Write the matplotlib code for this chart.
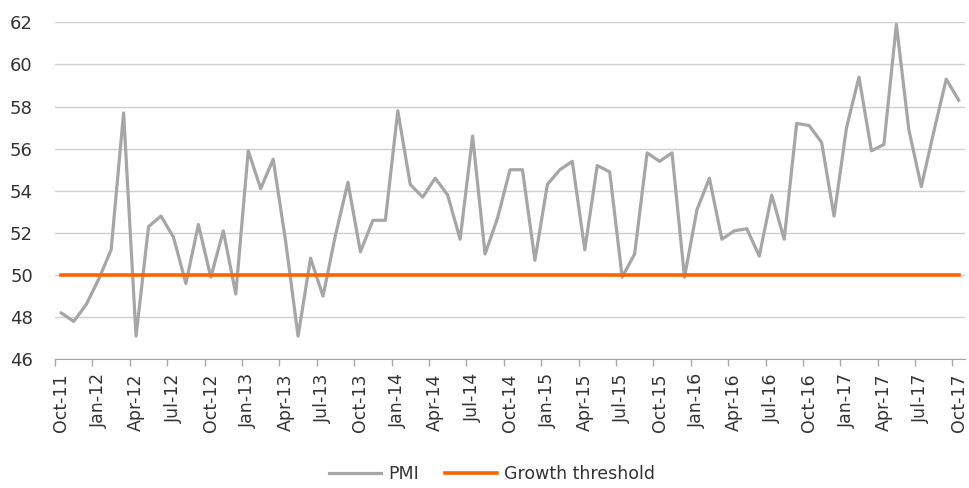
import matplotlib.pyplot as plt
import numpy as np

# Monthly PMI, Oct-11 .. Oct-17
pmi = [48.2, 47.8, 48.6, 49.8, 51.2, 57.7, 47.1, 52.3, 52.8, 51.8, 49.6, 52.4,
       49.9, 52.1, 49.1, 55.9, 54.1, 55.5, 51.6, 47.1, 50.8, 49.0, 51.9, 54.4,
       51.1, 52.6, 52.6, 57.8, 54.3, 53.7, 54.6, 53.8, 51.7, 56.6, 51.0, 52.7,
       55.0, 55.0, 50.7, 54.3, 55.0, 55.4, 51.2, 55.2, 54.9, 49.9, 51.0, 55.8,
       55.4, 55.8, 49.9, 53.1, 54.6, 51.7, 52.1, 52.2, 50.9, 53.8, 51.7, 57.2,
       57.1, 56.3, 52.8, 57.0, 59.4, 55.9, 56.2, 61.9, 56.9, 54.2, 56.8, 59.3,
       58.3]
threshold = 50
tick_labels = ['Oct-11', 'Jan-12', 'Apr-12', 'Jul-12', 'Oct-12', 'Jan-13',
               'Apr-13', 'Jul-13', 'Oct-13', 'Jan-14', 'Apr-14', 'Jul-14',
               'Oct-14', 'Jan-15', 'Apr-15', 'Jul-15', 'Oct-15', 'Jan-16',
               'Apr-16', 'Jul-16', 'Oct-16', 'Jan-17', 'Apr-17', 'Jul-17',
               'Oct-17']

x = np.arange(len(pmi))

fig = plt.figure(figsize=(9.69, 4.88), dpi=100)
ax = fig.add_axes([0.0568, 0.2637, 0.939, 0.6906])

ax.plot(x, pmi, color='#a6a6a6', linewidth=2.3, label='PMI', zorder=3)
ax.plot(x, [threshold] * len(x), color='#ff6200', linewidth=2.6,
        label='Growth threshold', zorder=4)

ax.set_xlim(-0.5, len(x) - 0.5)
ax.set_ylim(46, 62)
ax.set_yticks(range(46, 63, 2))
ax.grid(axis='y', color='#cfcfcf', linewidth=1.0)
ax.set_axisbelow(True)

# tick marks between categories, labels on the data points
ax.set_xticks(np.arange(-0.5, len(x) - 0.5, 3))
ax.set_xticklabels([])
ax.tick_params(axis='x', which='major', length=5, color='#a6a6a6', width=1)
ax.set_xticks(x[::3], minor=True)
ax.set_xticklabels(tick_labels, minor=True, rotation=90)
ax.tick_params(axis='x', which='minor', length=0, pad=10, labelsize=12.5,
               labelcolor='#333333')
ax.tick_params(axis='y', length=0, pad=16, labelsize=13, labelcolor='#333333')

for s in ['top', 'right', 'left']:
    ax.spines[s].set_visible(False)
ax.spines['bottom'].set_color('#a6a6a6')

fig.legend(loc='center', bbox_to_anchor=(0.508, 0.028), ncol=2, frameon=False,
           fontsize=12.5, handlelength=3.0, handletextpad=0.4,
           columnspacing=1.5, labelcolor='#333333')

fig.savefig('out.png', dpi=100)
